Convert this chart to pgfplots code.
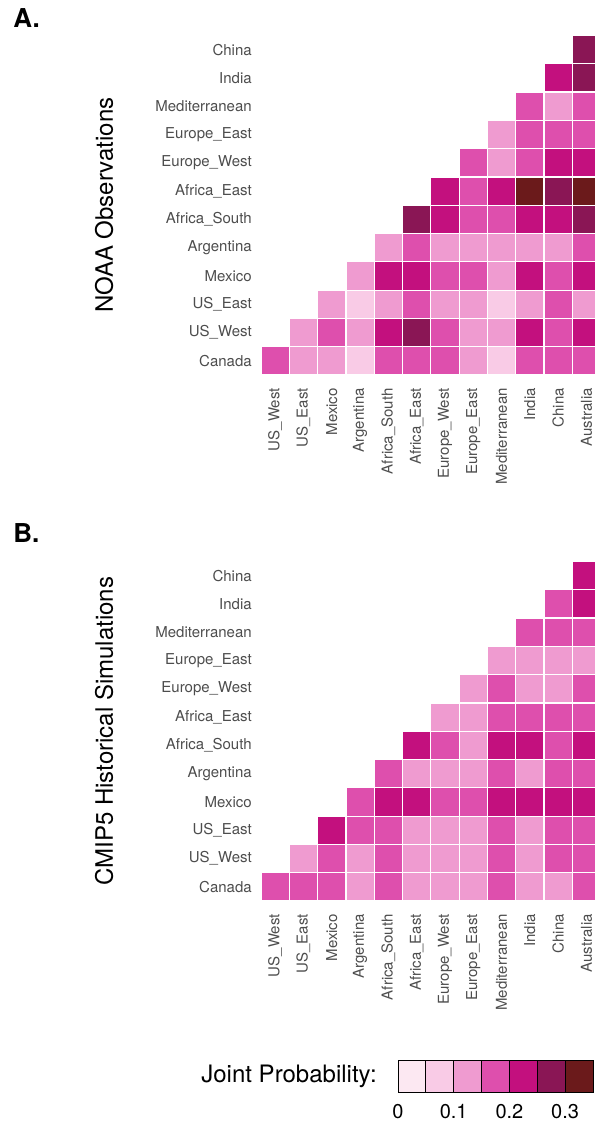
\documentclass[border=0pt]{standalone}
\usepackage{fontspec}
\setmainfont{TeX Gyre Heros}
\usepackage{pgfplots}
\usepackage{pgfplotstable}
\pgfplotsset{compat=1.18}
\definecolor{c1}{RGB}{252,232,242}
\definecolor{c2}{RGB}{249,203,230}
\definecolor{c3}{RGB}{239,155,208}
\definecolor{c4}{RGB}{222,79,173}
\definecolor{c5}{RGB}{195,16,126}
\definecolor{c6}{RGB}{138,22,85}
\definecolor{c7}{RGB}{107,26,27}
\definecolor{tickgray}{RGB}{77,77,77}

% NOAA observations: x = column region, y = row region, p = joint probability
\pgfplotstableread{
x y p
0 0 0.175
1 0 0.125
2 0 0.125
3 0 0.075
4 0 0.175
5 0 0.175
6 0 0.175
7 0 0.125
8 0 0.075
9 0 0.175
10 0 0.175
11 0 0.175
1 1 0.125
2 1 0.175
3 1 0.125
4 1 0.225
5 1 0.275
6 1 0.175
7 1 0.125
8 1 0.125
9 1 0.225
10 1 0.175
11 1 0.225
2 2 0.125
3 2 0.075
4 2 0.125
5 2 0.175
6 2 0.125
7 2 0.125
8 2 0.075
9 2 0.125
10 2 0.175
11 2 0.125
3 3 0.125
4 3 0.225
5 3 0.225
6 3 0.175
7 3 0.175
8 3 0.125
9 3 0.225
10 3 0.175
11 3 0.225
4 4 0.125
5 4 0.175
6 4 0.125
7 4 0.125
8 4 0.125
9 4 0.125
10 4 0.125
11 4 0.175
5 5 0.275
6 5 0.225
7 5 0.175
8 5 0.175
9 5 0.225
10 5 0.225
11 5 0.275
6 6 0.225
7 6 0.175
8 6 0.225
9 6 0.325
10 6 0.275
11 6 0.325
7 7 0.175
8 7 0.125
9 7 0.175
10 7 0.225
11 7 0.225
8 8 0.125
9 8 0.175
10 8 0.175
11 8 0.175
9 9 0.175
10 9 0.125
11 9 0.175
10 10 0.225
11 10 0.275
11 11 0.275
}\dataA

% CMIP5 historical simulations
\pgfplotstableread{
x y p
0 0 0.175
1 0 0.175
2 0 0.175
3 0 0.125
4 0 0.175
5 0 0.125
6 0 0.125
7 0 0.125
8 0 0.175
9 0 0.125
10 0 0.125
11 0 0.175
1 1 0.125
2 1 0.175
3 1 0.125
4 1 0.175
5 1 0.125
6 1 0.125
7 1 0.125
8 1 0.175
9 1 0.125
10 1 0.175
11 1 0.175
2 2 0.225
3 2 0.175
4 2 0.175
5 2 0.125
6 2 0.125
7 2 0.125
8 2 0.175
9 2 0.125
10 2 0.175
11 2 0.175
3 3 0.175
4 3 0.225
5 3 0.225
6 3 0.175
7 3 0.175
8 3 0.225
9 3 0.225
10 3 0.225
11 3 0.225
4 4 0.175
5 4 0.125
6 4 0.125
7 4 0.125
8 4 0.175
9 4 0.125
10 4 0.175
11 4 0.175
5 5 0.225
6 5 0.175
7 5 0.125
8 5 0.225
9 5 0.225
10 5 0.175
11 5 0.225
6 6 0.125
7 6 0.125
8 6 0.175
9 6 0.175
10 6 0.175
11 6 0.175
7 7 0.125
8 7 0.175
9 7 0.125
10 7 0.125
11 7 0.175
8 8 0.125
9 8 0.125
10 8 0.125
11 8 0.125
9 9 0.175
10 9 0.175
11 9 0.175
10 10 0.175
11 10 0.225
11 11 0.225
}\dataB

\pgfplotsset{
  hm/.style={
    x=21.225pt, y=21.225pt,
    xmin=-0.5, xmax=11.5, ymin=-0.5, ymax=11.5,
    anchor=south west,
    axis line style={draw=none},
    major tick length=0pt,
    xtick={0,...,11}, ytick={0,...,11},
    xticklabels={US\_West,US\_East,Mexico,Argentina,Africa\_South,Africa\_East,Europe\_West,Europe\_East,Mediterranean,India,China,Australia},
    yticklabels={Canada,US\_West,US\_East,Mexico,Argentina,Africa\_South,Africa\_East,Europe\_West,Europe\_East,Mediterranean,India,China},
    tick label style={font=\fontsize{11.25}{13}\selectfont, text=tickgray, inner sep=0pt},
    xticklabel style={rotate=90, anchor=east},
    yticklabel style={anchor=east},
    xticklabel shift=9.75pt,
    yticklabel shift=6.75pt,
    ylabel style={at={(axis description cs:-0.4623,0.5)}, anchor=center, font=\fontsize{18}{21}\selectfont, inner sep=0pt},
    colormap={jp}{rgb255=(252,232,242) rgb255=(249,203,230) rgb255=(239,155,208) rgb255=(222,79,173) rgb255=(195,16,126) rgb255=(138,22,85) rgb255=(107,26,27)},
    colormap access=piecewise constant,
    point meta min=0, point meta max=0.35,
  },
  tiles/.style={scatter, only marks, mark=square*, mark size=10.6125pt,
    point meta=explicit,
    scatter/use mapped color={draw=white, fill=mapped color},
    mark options={line width=0.9pt}},
}

\begin{document}
\begin{tikzpicture}
\useasboundingbox (0,0) rectangle (446.25pt,-846.75pt);
\clip (0,0) rectangle (446.25pt,-846.75pt);

\node[anchor=base west, inner sep=0pt, font=\bfseries\fontsize{19.5}{22}\selectfont] at (9.75pt,-20.25pt) {A.};
\node[anchor=base west, inner sep=0pt, font=\bfseries\fontsize{19.5}{22}\selectfont] at (9.75pt,-406.5pt) {B.};

\begin{axis}[hm, at={(195.75pt,-281.25pt)}, ylabel={NOAA Observations}]
\addplot[tiles] table[x=x, y=y, meta=p] {\dataA};
\end{axis}

\begin{axis}[hm, at={(195.75pt,-675.75pt)}, ylabel={CMIP5 Historical Simulations}]
\addplot[tiles] table[x=x, y=y, meta=p] {\dataB};
\end{axis}

\begin{axis}[at={(298.5pt,-819pt)}, anchor=south west,
  width=146.25pt, height=24pt, scale only axis,
  xmin=0, xmax=0.35, ymin=0, ymax=1,
  axis line style={draw=none}, major tick length=0pt,
  ytick=\empty, xtick={0,0.1,0.2,0.3}, xticklabels={0,0.1,0.2,0.3},
  xticklabel style={font=\fontsize{15}{18}\selectfont, anchor=north, inner sep=0pt},
  xticklabel shift=9pt, clip=false]
\addplot[draw=black, fill=c1, line width=0.7pt] coordinates {(0,1) (0.05,1)} \closedcycle;
\addplot[draw=black, fill=c2, line width=0.7pt] coordinates {(0.05,1) (0.1,1)} \closedcycle;
\addplot[draw=black, fill=c3, line width=0.7pt] coordinates {(0.1,1) (0.15,1)} \closedcycle;
\addplot[draw=black, fill=c4, line width=0.7pt] coordinates {(0.15,1) (0.2,1)} \closedcycle;
\addplot[draw=black, fill=c5, line width=0.7pt] coordinates {(0.2,1) (0.25,1)} \closedcycle;
\addplot[draw=black, fill=c6, line width=0.7pt] coordinates {(0.25,1) (0.3,1)} \closedcycle;
\addplot[draw=black, fill=c7, line width=0.7pt] coordinates {(0.3,1) (0.35,1)} \closedcycle;
\node[anchor=east, inner sep=0pt, xshift=-15.75pt, font=\fontsize{18}{21}\selectfont] at (axis description cs:0,0.5) {Joint Probability:};
\end{axis}
\end{tikzpicture}
\end{document}
